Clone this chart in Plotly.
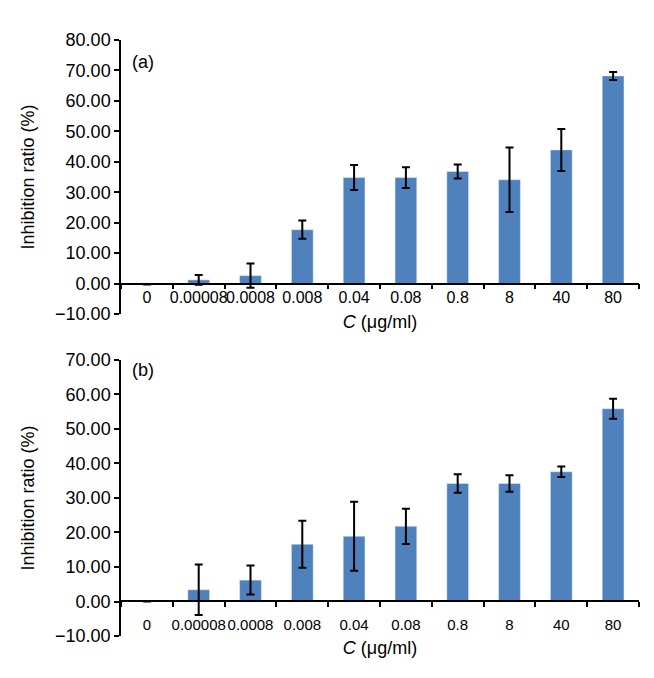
import plotly.graph_objects as go

# data
conc = ["0", "0.00008", "0.0008", "0.008", "0.04", "0.08", "0.8", "8", "40", "80"]
ratio_a = [-0.3, 1.2, 2.6, 17.7, 34.8, 34.8, 36.8, 34.1, 43.9, 68.2]
err_a = [0, 1.6, 4.0, 3.0, 4.1, 3.4, 2.3, 10.6, 6.9, 1.3]
ratio_b = [0, 3.4, 6.2, 16.6, 18.9, 21.8, 34.2, 34.2, 37.6, 55.9]
err_b = [None, 7.3, 4.2, 6.8, 10.0, 5.1, 2.7, 2.4, 1.5, 2.9]

yrange_a = [-10, 80]
yrange_b = [-10, 70]
dom_a = [0.5403, 1.0]
dom_b = [0.0, 0.4631]

font = "Arial, Liberation Sans, sans-serif"
blue = "#4f81bd"


def zero_pos(dom, rng):
    # paper position of y = 0 inside a panel
    return dom[0] + (0 - rng[0]) / (rng[1] - rng[0]) * (dom[1] - dom[0])


fig = go.Figure()

fig.add_trace(go.Bar(x=conc, y=ratio_a, xaxis="x", yaxis="y",
                     marker=dict(color=blue),
                     error_y=dict(type="data", array=err_a, color="black",
                                  thickness=2, width=4)))
fig.add_trace(go.Bar(x=conc, y=ratio_b, xaxis="x2", yaxis="y2",
                     marker=dict(color=blue),
                     error_y=dict(type="data", array=err_b, color="black",
                                  thickness=2, width=4)))

xcommon = dict(type="category", showline=True, linecolor="black", linewidth=1.5,
               ticks="outside", tickson="boundaries", ticklen=5, tickwidth=1.5,
               tickcolor="black", tickangle=0, showgrid=False, zeroline=False,
               domain=[0, 1], anchor="free")
ycommon = dict(showline=True, linecolor="black", linewidth=1.5, ticks="outside",
               ticklen=5, tickwidth=1.5, tickcolor="black", showgrid=False,
               zeroline=False, dtick=10, tickformat=".2f",
               tickfont=dict(size=18, color="black"))

ytitle = dict(text="Inhibition ratio (%)", font=dict(size=18, color="black"), standoff=16)


def xtitle(gap):
    return dict(text="<i>C</i> (μg/ml)", font=dict(size=18, color="black"), standoff=gap)


fig.update_layout(
    width=654, height=678,
    margin=dict(l=113, r=23, t=32, b=50),
    paper_bgcolor="white", plot_bgcolor="white",
    font=dict(family=font, color="black"),
    showlegend=False,
    bargap=0.58,
    xaxis=dict(xcommon, position=zero_pos(dom_a, yrange_a), title=xtitle(9),
               tickfont=dict(size=16, color="black")),
    yaxis=dict(ycommon, domain=dom_a, range=yrange_a, anchor="x", title=ytitle),
    xaxis2=dict(xcommon, position=zero_pos(dom_b, yrange_b), title=xtitle(8),
                ticklabelstandoff=10, tickfont=dict(size=15, color="black")),
    yaxis2=dict(ycommon, domain=dom_b, range=yrange_b, anchor="x2", title=ytitle),
    annotations=[
        dict(text="(a)", xref="paper", yref="paper", x=0.017, y=0.983,
             showarrow=False, font=dict(size=18, color="black")),
        dict(text="(b)", xref="paper", yref="paper", x=0.017, y=0.446,
             showarrow=False, font=dict(size=18, color="black")),
    ],
)

fig.write_html("out.html")
